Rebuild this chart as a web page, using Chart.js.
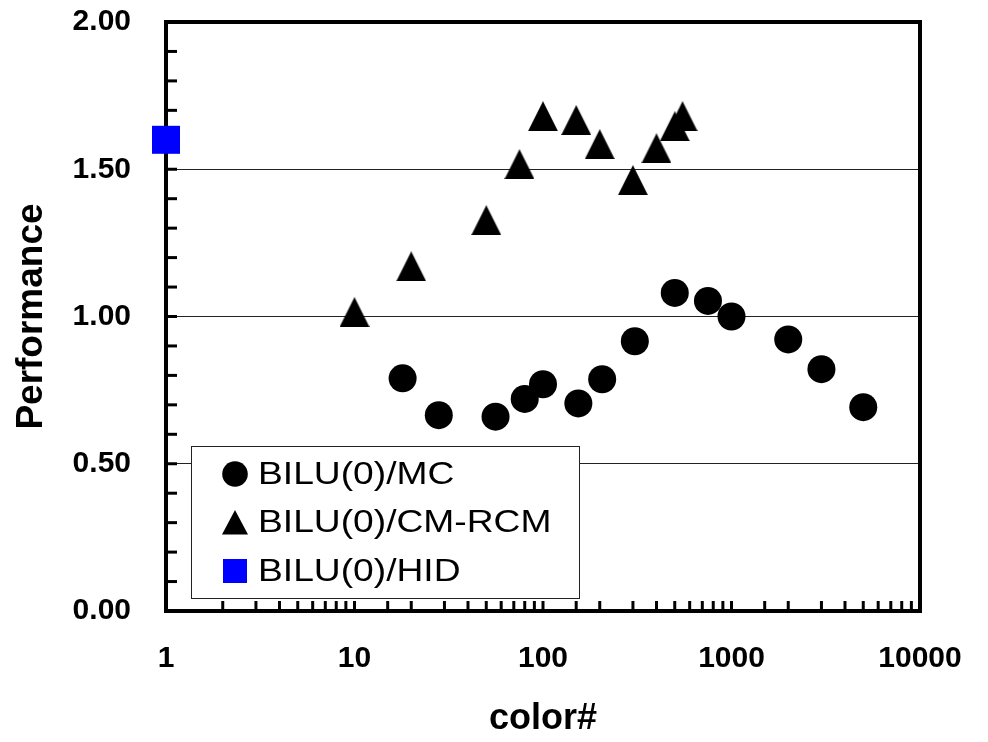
<!DOCTYPE html>
<html>
<head>
<meta charset="utf-8">
<title>Performance vs color#</title>
<script src="https://cdn.jsdelivr.net/npm/chart.js@4.4.1/dist/chart.umd.min.js"></script>
<style>
  body { margin: 0; background: #fff; }
</style>
</head>
<body>
<canvas id="perf-chart" width="988" height="742"></canvas>
<script>
// BILU(0)/MC
var mcColors = [18, 28, 56, 80, 100, 154, 206, 307, 500, 750, 1000, 2000, 3000, 5000];
var mcPerf   = [0.79, 0.665, 0.66, 0.72, 0.77, 0.705, 0.787, 0.916, 1.08, 1.053, 1.0, 0.922, 0.821, 0.692];

// BILU(0)/CM-RCM
var rcmColors = [10, 20, 50, 75, 100, 150, 200, 300, 400, 500, 550];
var rcmPerf   = [1.015, 1.17, 1.327, 1.517, 1.68, 1.667, 1.585, 1.463, 1.571, 1.646, 1.68];

// BILU(0)/HID
var hidColors = [1];
var hidPerf   = [1.6];

var xLabelValues = [1, 10, 100, 1000, 10000];
var yLabelValues = [0, 0.5, 1, 1.5, 2];

function toPoints(xs, ys) {
  return xs.map(function (x, i) { return { x: x, y: ys[i] }; });
}
function near(list, v) {
  return list.some(function (t) { return Math.abs(t - v) < 1e-6 * Math.max(1, t); });
}

// triangle marker centred on its box, like the original
var triMarker = document.createElement('canvas');
triMarker.width = 30; triMarker.height = 30;
(function () {
  var c = triMarker.getContext('2d');
  c.fillStyle = '#000';
  c.beginPath();
  c.moveTo(15, 0); c.lineTo(30, 30); c.lineTo(0, 30);
  c.closePath(); c.fill();
})();

var framePlugin = {
  id: 'frame',
  beforeDatasetsDraw: function (chart) {
    var ctx = chart.ctx, a = chart.chartArea;
    var xs = chart.scales.x, ys = chart.scales.y;
    ctx.save();
    ctx.strokeStyle = '#000';
    ctx.lineWidth = 3;
    ys.ticks.forEach(function (t) {
      var py = ys.getPixelForValue(t.value);
      ctx.beginPath(); ctx.moveTo(a.left, py); ctx.lineTo(a.left + 11, py); ctx.stroke();
    });
    xs.ticks.forEach(function (t) {
      var px = xs.getPixelForValue(t.value);
      ctx.beginPath(); ctx.moveTo(px, a.bottom); ctx.lineTo(px, a.bottom - 10); ctx.stroke();
    });
    ctx.lineWidth = 4;
    ctx.strokeRect(a.left, a.top, a.right - a.left, a.bottom - a.top);
    ctx.restore();
  }
};

var legendPlugin = {
  id: 'boxLegend',
  afterDatasetsDraw: function (chart) {
    var ctx = chart.ctx, a = chart.chartArea;
    var bx = a.left + 25, by = a.bottom - 165, bw = 388, bh = 152;
    ctx.save();
    ctx.fillStyle = '#fff';
    ctx.fillRect(bx, by, bw, bh);
    ctx.strokeStyle = '#222';
    ctx.lineWidth = 1;
    ctx.strokeRect(bx + 0.5, by + 0.5, bw, bh);
    chart.data.datasets.forEach(function (ds, i) {
      var cy = by + 28 + i * 48.5;
      var mx = bx + 44;
      ctx.fillStyle = ds.backgroundColor;
      if (ds.pointStyle === 'circle') {
        ctx.beginPath(); ctx.arc(mx, cy, 12.8, 0, Math.PI * 2); ctx.fill();
      } else if (ds.pointStyle === 'rect') {
        ctx.fillRect(mx - 12, cy - 12, 24, 24);
      } else {
        ctx.beginPath();
        ctx.moveTo(mx, cy - 12.5); ctx.lineTo(mx + 13, cy + 12); ctx.lineTo(mx - 13, cy + 12);
        ctx.closePath(); ctx.fill();
      }
      ctx.save();
      ctx.translate(bx + 67, cy);
      ctx.scale(1.2, 1);
      ctx.fillStyle = '#000';
      ctx.font = '31px "Liberation Sans", Arial, sans-serif';
      ctx.textBaseline = 'middle';
      ctx.fillText(ds.label, 0, 1);
      ctx.restore();
    });
    ctx.restore();
  }
};

var perfChart = new Chart(document.getElementById('perf-chart'), {
  type: 'scatter',
  data: {
    datasets: [{
      label: 'BILU(0)/MC',
      data: toPoints(mcColors, mcPerf),
      pointStyle: 'circle',
      backgroundColor: '#000',
      borderWidth: 0,
      pointRadius: 14,
      clip: false
    }, {
      label: 'BILU(0)/CM-RCM',
      data: toPoints(rcmColors, rcmPerf),
      pointStyle: triMarker,
      backgroundColor: '#000',
      borderWidth: 0,
      pointRadius: 15,
      clip: false
    }, {
      label: 'BILU(0)/HID',
      data: toPoints(hidColors, hidPerf),
      pointStyle: 'rect',
      backgroundColor: '#0000ff',
      borderWidth: 0,
      pointRadius: 19.8,
      clip: false
    }]
  },
  options: {
    responsive: false,
    animation: false,
    layout: { padding: { left: 0, right: 68, top: 22, bottom: 0 } },
    plugins: {
      legend: { display: false },
      tooltip: { enabled: false }
    },
    scales: {
      x: {
        type: 'logarithmic',
        min: 1,
        max: 10000,
        grid: { display: false, drawTicks: false },
        border: { display: false },
        ticks: {
          autoSkip: false,
          maxRotation: 0,
          padding: 30,
          color: '#000',
          font: { family: '"Liberation Sans", Arial, sans-serif', size: 30, weight: 'bold' },
          callback: function (v) { return near(xLabelValues, v) ? String(Math.round(v)) : ''; }
        },
        title: {
          display: true,
          text: 'color#',
          color: '#000',
          padding: { top: 0, bottom: 1 },
          font: { family: '"Liberation Sans", Arial, sans-serif', size: 36, weight: 'bold' }
        },
        afterFit: function (s) { s.height = 131; s.paddingLeft = 0; s.paddingRight = 0; }
      },
      y: {
        min: 0,
        max: 2,
        grid: {
          drawTicks: false,
          lineWidth: 1,
          color: function (c) {
            var v = c.tick.value;
            return (near(yLabelValues, v) && v > 0 && v < 2) ? '#222' : 'rgba(0,0,0,0)';
          }
        },
        border: { display: false },
        ticks: {
          stepSize: 0.1,
          autoSkip: false,
          padding: 35,
          color: '#000',
          font: { family: '"Liberation Sans", Arial, sans-serif', size: 30, weight: 'bold' },
          callback: function (v) { return near(yLabelValues, v) ? v.toFixed(2) : ''; }
        },
        title: {
          display: true,
          text: 'Performance',
          color: '#000',
          padding: { top: 10, bottom: 0 },
          font: { family: '"Liberation Sans", Arial, sans-serif', size: 37, weight: 'bold' }
        },
        afterFit: function (s) { s.width = 166; s.paddingTop = 0; s.paddingBottom = 0; }
      }
    }
  },
  plugins: [framePlugin, legendPlugin]
});
</script>
</body>
</html>
